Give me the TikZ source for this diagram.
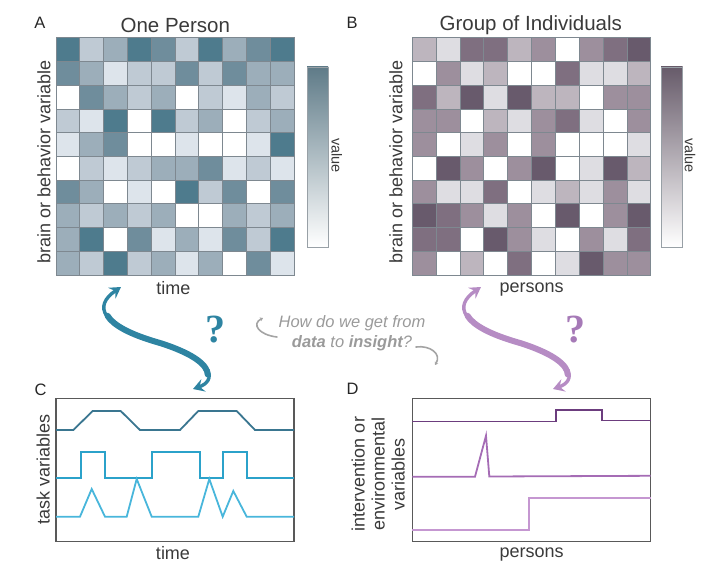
\documentclass[tikz,border=0pt]{standalone}
\usepackage{fontspec}
\setmainfont{Liberation Sans}
\newfontfamily\qmarkfont{Liberation Serif}
\usetikzlibrary{arrows.meta}

% cell shades, one person (teal) and group (plum)
\definecolor{tA0}{HTML}{FFFFFF}
\definecolor{tA1}{HTML}{DDE4EB}
\definecolor{tA2}{HTML}{BFCAD4}
\definecolor{tA3}{HTML}{9CAEBA}
\definecolor{tA4}{HTML}{6F8D9C}
\definecolor{tA5}{HTML}{4E7B8D}
\definecolor{pB0}{HTML}{FFFFFF}
\definecolor{pB1}{HTML}{DEDDE2}
\definecolor{pB2}{HTML}{BDB5BE}
\definecolor{pB3}{HTML}{9D8F9D}
\definecolor{pB4}{HTML}{7F6F80}
\definecolor{pB5}{HTML}{685A6C}
\definecolor{barA}{HTML}{5F7B88}
\definecolor{barB}{HTML}{675B6A}
\definecolor{gridgray}{HTML}{7E8890}
\definecolor{inkgray}{HTML}{3A3A3A}
\definecolor{askgray}{HTML}{9A9A9A}
\definecolor{tealarr}{HTML}{2E84A2}
\definecolor{plumarr}{HTML}{B68CC4}
\definecolor{plumq}{HTML}{A67AB7}
\definecolor{lineCa}{HTML}{3A7690}
\definecolor{lineCb}{HTML}{2BA2CA}
\definecolor{lineCc}{HTML}{48B6DB}
\definecolor{lineDa}{HTML}{6C3D7E}
\definecolor{lineDb}{HTML}{A56CB5}
\definecolor{lineDc}{HTML}{C597D1}

\tikzset{
  title/.style={text=inkgray, font=\fontsize{20.5}{24}\selectfont},
  axislabel/.style={text=inkgray, font=\fontsize{18}{20}\selectfont},
  barlabel/.style={text=inkgray, font=\fontsize{14.5}{16}\selectfont},
  letter/.style={text=black!85, font=\fontsize{16.5}{18}\selectfont},
  cell/.style={draw=gridgray, line width=0.7pt},
  bar/.style={draw=gridgray!80, line width=0.8pt},
  panelbox/.style={draw=black!65, line width=1.1pt},
  trace/.style={line width=1.8pt, line join=miter},
  bigarrow/.style={line width=3.4pt, {Stealth[length=11pt,width=13pt,inset=4pt]}-{Stealth[length=11pt,width=13pt,inset=4pt]}},
  thickpart/.style={line width=6pt, line cap=round},
  qmark/.style={font=\qmarkfont\bfseries\fontsize{40}{40}\selectfont},
  ask/.style={text=askgray, align=center, font=\itshape\fontsize{16.5}{20}\selectfont},
  hook/.style={draw=askgray!90, line width=1.6pt, line cap=round}
}

\begin{document}
\begin{tikzpicture}[x=1pt,y=-1pt]

\useasboundingbox (0,0) rectangle (720,569);

% Panel A: one person
    \foreach \row [count=\r from 0] in {
        {5,2,3,5,4,2,5,3,4,5},
        {4,3,1,2,2,4,2,4,3,3},
        {0,4,3,2,3,0,2,1,3,2},
        {2,1,5,0,5,2,3,0,2,3},
        {1,3,4,0,0,1,0,0,1,5},
        {0,2,1,2,3,3,4,1,2,1},
        {4,3,0,1,0,5,2,4,0,4},
        {3,2,3,2,3,0,0,3,2,3},
        {3,5,0,4,1,3,1,4,2,5},
        {3,2,5,2,3,1,3,0,4,1}} {
        \foreach \v [count=\c from 0] in \row {
            \filldraw[cell, fill=tA\v] ({56+\c*23.8},{37.7+\r*23.73}) rectangle ++(23.8,23.73);
        }
    }
    \node[draw=gridgray, line width=0.9pt, minimum width=238pt, minimum height=237.3pt, inner sep=0pt] (gridA) at (175,156.35) {};

    \shade[top color=barA, bottom color=white] (307,67) rectangle (328,247);
    \node[bar, minimum width=21pt, minimum height=180pt, inner sep=0pt] (barA) at (317.5,157) {};

    \node[letter] (labA) at (40,23) {A};
    \node[title] (titleA) at (175.3,25) {One Person};
    \node[axislabel, rotate=90] (varA) at (44,161.7) {brain or behavior variable};
    \node[barlabel, rotate=-90] (valA) at (336.7,155.5) {value};
    \node[axislabel] (timeA) at (173.3,288) {time};

% Panel B: group of individuals
    \foreach \row [count=\r from 0] in {
        {2,1,4,4,2,3,0,3,4,5},
        {0,3,1,2,0,0,4,1,1,2},
        {4,2,5,1,5,2,2,0,3,3},
        {3,3,0,2,1,3,4,1,0,3},
        {3,0,1,3,0,3,0,0,0,1},
        {0,5,3,0,3,5,0,1,5,2},
        {3,1,1,4,0,1,2,1,3,1},
        {5,4,3,1,3,0,5,0,3,5},
        {4,4,0,5,3,1,0,3,1,4},
        {3,0,2,0,4,0,1,5,3,3}} {
        \foreach \v [count=\c from 0] in \row {
            \filldraw[cell, fill=pB\v] ({412.3+\c*23.84},{37.7+\r*23.73}) rectangle ++(23.84,23.73);
        }
    }
    \node[draw=gridgray, line width=0.9pt, minimum width=238.4pt, minimum height=237.3pt, inner sep=0pt] (gridB) at (531.5,156.35) {};

    \shade[top color=barB, bottom color=white] (661,67) rectangle (682.7,247);
    \node[bar, minimum width=21.7pt, minimum height=180pt, inner sep=0pt] (barB) at (671.85,157) {};

    \node[letter] (labB) at (352,23) {B};
    \node[title] (titleB) at (530.8,25) {Group of Individuals};
    \node[axislabel, rotate=90] (varB) at (396,161.7) {brain or behavior variable};
    \node[barlabel, rotate=-90] (valB) at (690,155.5) {value};
    \node[axislabel] (personsB) at (531.7,290) {persons};

% Arrows and question
    \coordinate (arrAtop) at (121,287);
    \coordinate (arrAmid) at (160,343);
    \coordinate (arrAbot) at (193,389);
    \coordinate (arrAthickA) at (107.5,315.75);
    \coordinate (arrAthickB) at (207.74,374.54);
    \draw[bigarrow, tealarr] (arrAtop) .. controls (93,306) and (100,326) .. (arrAmid)
        .. controls (217,361) and (216,381) .. (arrAbot);
    \draw[thickpart, tealarr] (arrAthickA) .. controls (113.25,325.25) and (130,334.5) .. (arrAmid)
        .. controls (194.2,353.8) and (207.52,365.32) .. (arrAthickB);
    \node[qmark, text=tealarr] (qA) at (215,330) {?};

    \coordinate (arrBtop) at (481,287);
    \coordinate (arrBmid) at (520,343);
    \coordinate (arrBbot) at (553,389);
    \coordinate (arrBthickA) at (467.5,315.75);
    \coordinate (arrBthickB) at (567.74,374.54);
    \draw[bigarrow, plumarr] (arrBtop) .. controls (453,306) and (460,326) .. (arrBmid)
        .. controls (577,361) and (576,381) .. (arrBbot);
    \draw[thickpart, plumarr] (arrBthickA) .. controls (473.25,325.25) and (490,334.5) .. (arrBmid)
        .. controls (554.2,353.8) and (567.52,365.32) .. (arrBthickB);
    \node[qmark, text=plumq] (qB) at (575,330) {?};

    \node[ask] (ask) at (352,333) {How do we get from\\{\bfseries data} to {\bfseries insight}?};
    \coordinate (hookLa) at (263,318);
    \coordinate (hookLb) at (277,337);
    \draw[hook, -{Stealth[length=3pt,width=4pt]}] (hookLb) .. controls (259,335) and (251,324) .. (hookLa);
    \coordinate (hookRa) at (416,347);
    \coordinate (hookRb) at (435,365);
    \draw[hook, -{Stealth[length=3pt,width=4pt]}] (hookRa) .. controls (430,345) and (442,354) .. (hookRb);

% Panel C: task variables
    \node[panelbox, minimum width=238pt, minimum height=143.4pt, inner sep=0pt] (boxC) at (175,470) {};
    \node[letter] (labC) at (40.7,390) {C};
    \node[axislabel, rotate=90] (taskC) at (43.3,469) {task variables};
    \node[axislabel] (timeC) at (173,553) {time};

    \draw[trace, lineCa] (56,430) -- (73.3,430) -- (92.7,411) -- (120.7,411) -- (140,430) -- (180,430)
        -- (198.3,411) -- (236.7,411) -- (255,430) -- (294,430);
    \draw[trace, lineCb] (56,478.3) -- (80.7,478.3) -- (80.7,452.3) -- (105,452.3) -- (105,478.3)
        -- (151.7,478.3) -- (151.7,452.3) -- (200,452.3) -- (200,478.3) -- (223.3,478.3)
        -- (223.3,452.3) -- (246.7,452.3) -- (246.7,478.3) -- (294,478.3);
    \draw[trace, lineCc] (56,516.7) -- (80,516.7) -- (91.7,489) -- (105,516.7) -- (126.7,516.7)
        -- (136.7,479) -- (151.7,516.7) -- (198.3,516.7) -- (209.3,479) -- (222.7,516.7)
        -- (233.3,491) -- (246.7,516.7) -- (294,516.7);

% Panel D: intervention or environmental variables
    \node[panelbox, minimum width=238.4pt, minimum height=143.4pt, inner sep=0pt] (boxD) at (531.5,470) {};
    \node[letter] (labD) at (352.7,389) {D};
    \node[axislabel, rotate=90, align=center] (envD) at (378.3,474) {intervention or\\environmental\\variables};
    \node[axislabel] (personsD) at (531.7,555) {persons};

    \draw[trace, lineDa] (412.3,421.5) -- (555.7,421.5) -- (555.7,410) -- (601.7,410) -- (601.7,420.5) -- (650.7,420.5);
    \draw[trace, lineDb] (412.3,476.7) -- (475,476.7) -- (486,435.7) -- (489.3,476.5) -- (650.7,475.8);
    \draw[trace, lineDc] (412.3,530) -- (529.3,530) -- (529.3,498.3) -- (650.7,498.3);

\end{tikzpicture}
\end{document}
